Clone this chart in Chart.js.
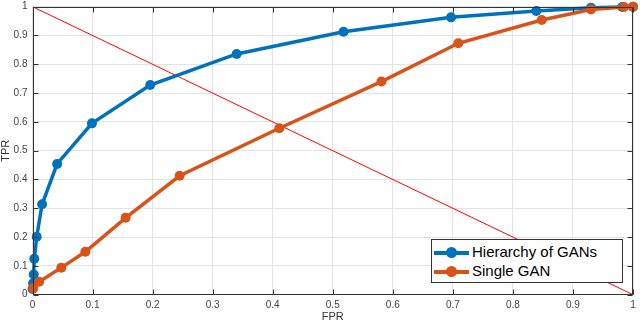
<!DOCTYPE html>
<html>
<head>
<meta charset="utf-8">
<script src="https://cdn.jsdelivr.net/npm/chart.js@4"></script>
<style>
  html,body{margin:0;padding:0;background:#fff;}
  #wrap{position:relative;width:640px;height:322px;}
  #legend{position:absolute;left:431px;top:239px;width:192px;height:44px;border:1px solid #333;background:#fff;
    font-family:"Liberation Sans",Arial,sans-serif;font-size:15px;color:#000;box-sizing:border-box;}
  .row{position:absolute;left:0;height:20px;width:100%;}
  .ln{position:absolute;left:2px;top:9px;width:35px;height:4px;}
  .dot{position:absolute;left:14px;top:5px;width:11px;height:11px;border-radius:50%;}
  .tx{position:absolute;left:40px;top:1px;line-height:18px;white-space:nowrap;}
</style>
</head>
<body>
<div id="wrap">
<canvas id="c" width="640" height="322"></canvas>
<div id="legend"></div>
</div>
<script>
// ---- data ----
const hierFPR = [0, 0.001, 0.002, 0.003, 0.007, 0.016, 0.041, 0.099, 0.196, 0.340, 0.518, 0.697, 0.839, 0.930, 0.982, 1.0];
const hierTPR = [0.02, 0.04, 0.07, 0.125, 0.201, 0.314, 0.454, 0.595, 0.728, 0.836, 0.913, 0.963, 0.985, 0.996, 0.999, 1.0];
const singleFPR = [0.001, 0.011, 0.048, 0.088, 0.155, 0.245, 0.411, 0.581, 0.709, 0.848, 0.930, 0.985, 1.0];
const singleTPR = [0.022, 0.045, 0.094, 0.149, 0.267, 0.413, 0.578, 0.740, 0.873, 0.954, 0.990, 0.999, 1.0];
const diagFPR = [0, 1];
const diagTPR = [1, 0];
const tickValues = [0, 0.1, 0.2, 0.3, 0.4, 0.5, 0.6, 0.7, 0.8, 0.9, 1];
const tickLabels = ['0', '0.1', '0.2', '0.3', '0.4', '0.5', '0.6', '0.7', '0.8', '0.9', '1'];
const seriesNames = ['Hierarchy of GANs', 'Single GAN'];
const axisTitles = {x: 'FPR', y: 'TPR'};

const BLUE = '#0072BD', ORANGE = '#D95319';
const pts = (xs, ys) => xs.map((x, i) => ({x: x, y: ys[i]}));

function labelFor(v){
  const i = tickValues.findIndex(t => Math.abs(t - v) < 1e-6);
  return i >= 0 ? tickLabels[i] : '';
}

const FONT = '"Liberation Sans", Arial, sans-serif';

const boxPlugin = {
  id: 'box',
  afterDatasetsDraw(chart){
    const {ctx, chartArea: a, scales} = chart;
    ctx.save();
    ctx.strokeStyle = '#333';
    ctx.lineWidth = 1;
    ctx.beginPath();
    const L = Math.round(a.left)+0.5, R = Math.round(a.right)-0.5, T = Math.round(a.top)+0.5, B = Math.round(a.bottom)-0.5;
    ctx.rect(L, T, R-L, B-T);
    const tl = 5;
    tickValues.forEach(v => {
      const px = Math.round(scales.x.getPixelForValue(v))+0.5;
      ctx.moveTo(px, B); ctx.lineTo(px, B-tl);
      ctx.moveTo(px, T); ctx.lineTo(px, T+tl);
      const py = Math.round(scales.y.getPixelForValue(v))+0.5;
      ctx.moveTo(L, py); ctx.lineTo(L+tl, py);
      ctx.moveTo(R, py); ctx.lineTo(R-tl, py);
    });
    ctx.stroke();
    ctx.restore();
  }
};

new Chart(document.getElementById('c'), {
  type: 'scatter',
  data: {
    datasets: [
      {label: seriesNames[0], data: pts(hierFPR, hierTPR), showLine: true, borderColor: BLUE, backgroundColor: BLUE,
       borderWidth: 3.5, pointRadius: 5, pointBorderWidth: 0, order: 2, clip: false},
      {label: seriesNames[1], data: pts(singleFPR, singleTPR), showLine: true, borderColor: ORANGE, backgroundColor: ORANGE,
       borderWidth: 3.5, pointRadius: 5, pointBorderWidth: 0, order: 1, clip: false},
      {label: 'diag', data: pts(diagFPR, diagTPR), showLine: true, borderColor: '#FF0000', borderWidth: 1,
       pointRadius: 0, order: 3}
    ]
  },
  options: {
    animation: false,
    responsive: false,
    layout: {autoPadding: false, padding: {top: 6.7, right: 7, left: 0, bottom: 0}},
    plugins: {legend: {display: false}, tooltip: {enabled: false}},
    scales: {
      x: {
        type: 'linear', min: 0, max: 1,
        afterBuildTicks(s){ s.ticks = tickValues.map(v => ({value: v})); },
        afterFit(s){ s.height = 27.3; s.paddingLeft = 0; s.paddingRight = 0; },
        grid: {color: '#e3e3e3', drawTicks: false, drawOnChartArea: true},
        border: {display: false},
        ticks: {padding: 5, color: '#444', font: {family: FONT, size: 10}, maxRotation: 0, autoSkip: false,
                callback: v => labelFor(v)},
        title: {display: true, text: axisTitles.x, color: '#333', font: {family: FONT, size: 11, lineHeight: 1},
                padding: {top: 0, bottom: 0}}
      },
      y: {
        type: 'linear', min: 0, max: 1,
        afterBuildTicks(s){ s.ticks = tickValues.map(v => ({value: v})); },
        afterFit(s){ s.width = 32.5; s.paddingTop = 0; s.paddingBottom = 0; },
        grid: {color: '#e3e3e3', drawTicks: false},
        border: {display: false},
        ticks: {padding: 5, color: '#444', font: {family: FONT, size: 10}, autoSkip: false,
                callback: v => labelFor(v)},
        title: {display: true, text: axisTitles.y, color: '#333', font: {family: FONT, size: 11, lineHeight: 1},
                padding: {top: 0, bottom: 0}}
      }
    }
  },
  plugins: [boxPlugin]
});

const lg = document.getElementById('legend');
[[seriesNames[0], BLUE, 2], [seriesNames[1], ORANGE, 21]].forEach(([name, col, top]) => {
  const r = document.createElement('div'); r.className = 'row'; r.style.top = top + 'px';
  const ln = document.createElement('div'); ln.className = 'ln'; ln.style.background = col;
  const dt = document.createElement('div'); dt.className = 'dot'; dt.style.background = col;
  const tx = document.createElement('div'); tx.className = 'tx'; tx.textContent = name;
  r.appendChild(ln); r.appendChild(dt); r.appendChild(tx); lg.appendChild(r);
});
</script>
</body>
</html>
